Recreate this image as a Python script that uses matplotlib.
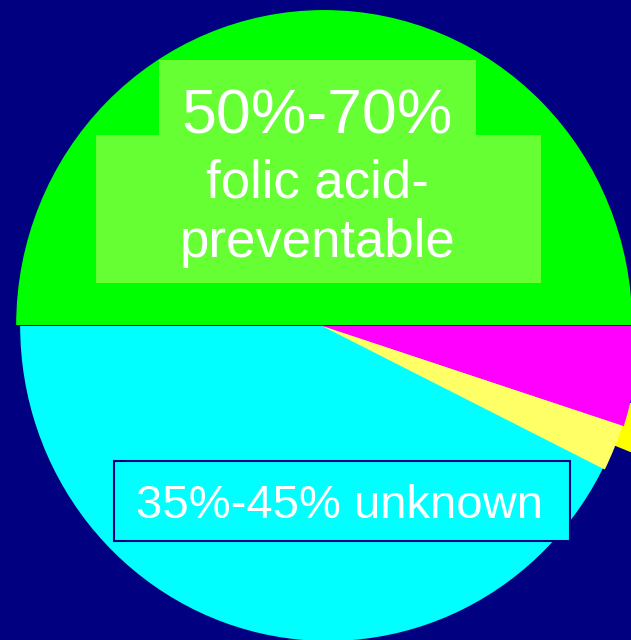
import matplotlib
matplotlib.use("Agg")
import matplotlib.pyplot as plt
from matplotlib.patches import Rectangle, Wedge

plt.rcParams["font.family"] = ["Liberation Sans", "DejaVu Sans"]

# slice data (percent of the circle), clockwise from the left
labels = ["folic acid-preventable", "other A", "other B", "unknown"]
shares = [50, 5, 2, 43]
colors = ["#00ff00", "#ff00ff", "#ffff66", "#00ffff"]
radii = [1.0, 1.03, 1.025, 1.0]
# small detached piece poking out past the right edge
sliver_share = 2.1
sliver_color = "#ffff00"

NAVY = "#000080"
BOX_GREEN = "#66ff33"

fig = plt.figure(figsize=(6.31, 6.40), dpi=100)
fig.patch.set_facecolor(NAVY)

# pie axes: unit circle stretched a bit vertically, centre at pixel (322, 326)
ax = fig.add_axes([0, 0, 1, 1])
ax.set_facecolor(NAVY)
rx, ry = 308.0, 315.0
cx, cy = 322.0, 326.0
W, H = 631.0, 640.0

wedges, _ = ax.pie(shares, colors=colors, startangle=180, counterclock=False)
for w, r in zip(wedges, radii):
    w.set_radius(r)
    w.set_zorder(2)
# the big halves are slightly off the common centre in the original
wedges[0].set_center((0.007, 0.003))
wedges[3].set_center((0.02, 0.0))
# let the pale yellow slice overlap the cyan edge so no gap shows
wedges[2].set_theta1(wedges[2].theta1 - 1.2)
wedges[2].set_zorder(3)
wedges[1].set_zorder(3)

# detached sliver sits behind the magenta / yellow boundary
edge = 180 - 360 * (shares[0] + shares[1]) / 100.0
half = 360 * sliver_share / 100.0 / 2
ax.add_patch(Wedge((0, 0), 1.1, edge - half, edge + half + 0.5,
                   facecolor=sliver_color, zorder=1))

ax.set_aspect("auto")
ax.set_xlim(-cx / rx, (W - cx) / rx)
ax.set_ylim(-(H - cy) / ry, cy / ry)
ax.axis("off")

# overlay in pixel coordinates for the label boxes
ov = fig.add_axes([0, 0, 1, 1])
ov.set_xlim(0, W)
ov.set_ylim(H, 0)
ov.patch.set_alpha(0)
ov.axis("off")

ov.add_patch(Rectangle((159, 60), 317, 120, facecolor=BOX_GREEN, edgecolor="none"))
ov.add_patch(Rectangle((96, 135), 445, 148, facecolor=BOX_GREEN, edgecolor="none"))
ov.text(317, 133, "50%-70%", color="white", fontsize=45, ha="center", va="baseline")
ov.text(317, 197, "folic acid-", color="white", fontsize=38, ha="center", va="baseline")
ov.text(318, 257, "preventable", color="white", fontsize=38, ha="center", va="baseline")

ov.add_patch(Rectangle((114, 461), 456, 80, facecolor="#00ffff",
                       edgecolor=NAVY, linewidth=1.5))
ov.text(340, 518, "35%-45% unknown", color="white", fontsize=34,
        ha="center", va="baseline")

fig.savefig("out.png", dpi=100, facecolor=NAVY)
